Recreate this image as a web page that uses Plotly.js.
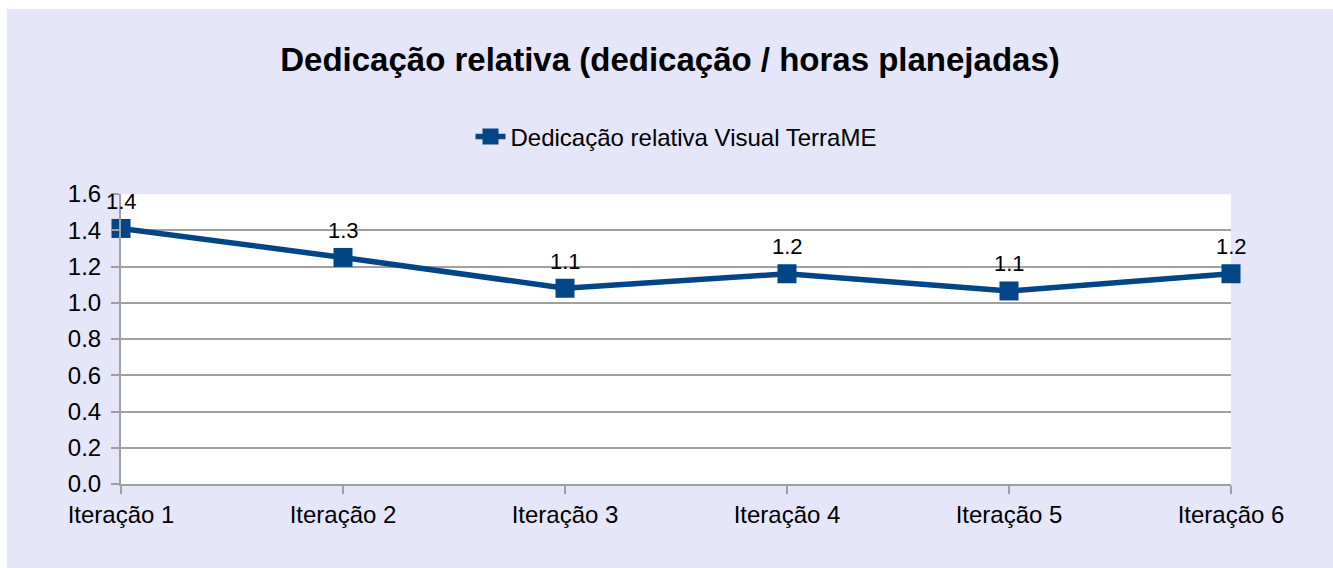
<!DOCTYPE html>
<html>
<head>
<meta charset="utf-8">
<script src="https://cdn.plot.ly/plotly-3.0.1.min.js"></script>
<style>
html,body{margin:0;padding:0;background:#ffffff;width:1333px;height:568px;overflow:hidden;}
#chart{position:absolute;left:7px;top:9px;width:1326px;height:559px;}
</style>
</head>
<body>
<div id="chart"></div>
<script>
var categories = ["Iteração 1","Iteração 2","Iteração 3","Iteração 4","Iteração 5","Iteração 6"];
var values = [1.41, 1.25, 1.08, 1.16, 1.065, 1.16];
var seriesName = "Dedicação relativa Visual TerraME";
var yTicks = [0,0.2,0.4,0.6,0.8,1.0,1.2,1.4,1.6];
var yTickText = ["0.0","0.2","0.4","0.6","0.8","1.0","1.2","1.4","1.6"];

var xIdx = categories.map(function(c,i){return i;});
var blue = "#004586";
var FONT = "Liberation Sans, Arial, sans-serif";

var trace = {
  x: xIdx, y: values, type: "scatter", mode: "lines+markers",
  name: seriesName,
  line: {color: blue, width: 5.5},
  marker: {symbol: "square", size: 19, color: blue},
  cliponaxis: false
};

var annotations = xIdx.map(function(x,i){
  return {x: x, y: values[i], xref: "x", yref: "y", text: values[i].toFixed(1),
    showarrow: false, yshift: 27, font: {family: FONT, size: 22, color: "#000"}};
});

var layout = {
  width: 1326, height: 559,
  paper_bgcolor: "#e6e6fb", plot_bgcolor: "#ffffff",
  margin: {l: 114, r: 102, t: 185, b: 84},
  title: {text: "<b>Dedicação relativa (dedicação / horas planejadas)</b>", x: 0.5, xanchor: "center", y: 0.909, yanchor: "middle",
    font: {family: FONT, size: 33, color: "#000"}},
  showlegend: true,
  legend: {orientation: "h", x: 0.5, xanchor: "center", y: 1.0+ (185-128)/290, yanchor: "middle",
    font: {family: FONT, size: 24, color: "#000"}, bgcolor: "rgba(0,0,0,0)"},
  xaxis: {range: [0, 5], tickvals: xIdx, ticktext: categories, showgrid: false, zeroline: false,
    showline: true, linecolor: "#a0a0a0", linewidth: 2, ticks: "outside", ticklen: 8, tickcolor: "#a0a0a0", tickwidth: 2,
    tickfont: {family: FONT, size: 24, color: "#000"}, fixedrange: true},
  yaxis: {range: [0, 1.6], tickvals: yTicks, ticktext: yTickText, showgrid: true, gridcolor: "#a0a0a0", gridwidth: 2,
    zeroline: false, showline: true, linecolor: "#a0a0a0", linewidth: 2, ticks: "outside", ticklen: 8, tickcolor: "#a0a0a0", tickwidth: 2,
    ticklabelstandoff: 5,
    tickfont: {family: FONT, size: 24, color: "#000"}, fixedrange: true},
  annotations: annotations
};

Plotly.newPlot("chart", [trace], layout, {displayModeBar: false, staticPlot: true});
</script>
</body>
</html>
